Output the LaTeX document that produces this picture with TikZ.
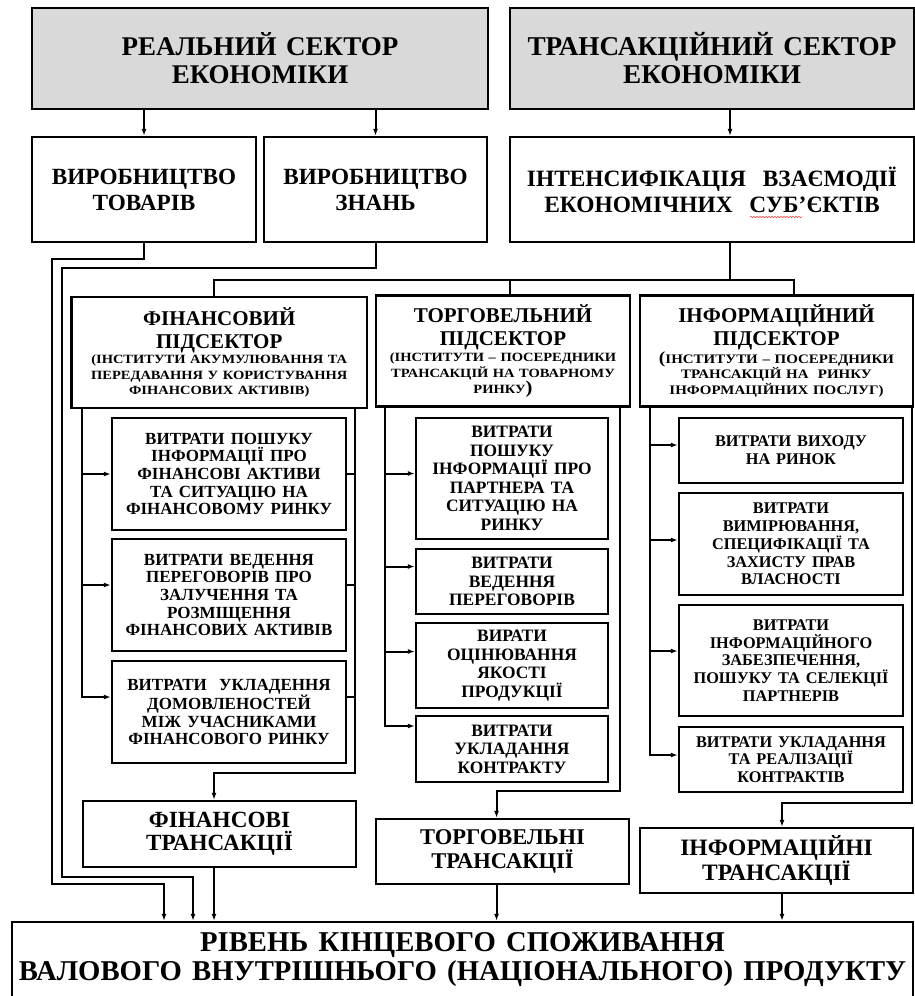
\documentclass[tikz,border=0pt]{standalone}
\usepackage{fontspec}
\setmainfont{Liberation Serif}
\newfontfamily\widefont{Liberation Serif}[FakeStretch=1.15]
\usetikzlibrary{arrows.meta,calc,decorations.pathmorphing}
\definecolor{sectgray}{RGB}{217,217,217}
\newcommand\fsz[2]{\fontsize{#1}{#2}\selectfont\spaceskip=0.36em\relax}
\begin{document}
\begin{tikzpicture}[x=1pt,y=-1pt,
  box/.style={draw=black, line width=2.4pt, inner sep=0pt, align=center, font=\bfseries},
  conn/.style={line width=2pt, line join=miter},
  arr/.style={conn, -{Latex[length=7pt,width=5pt]}},
  squiggle/.style={red!75, line width=0.6pt, decorate, decoration={snake, amplitude=0.7pt, segment length=3pt}},
]
\useasboundingbox[fill=white] (0,0) rectangle (915,996);

% top row
\node[box, fill=sectgray, minimum width=456pt, minimum height=101pt, text width=450pt] (top1) at (260,58.5) {\fsz{27}{28}РЕАЛЬНИЙ СЕКТОР\\ЕКОНОМІКИ\par};
\node[box, fill=sectgray, minimum width=404pt, minimum height=101pt, text width=398pt] (top2) at (712,58.5) {\fsz{27.2}{28}ТРАНСАКЦІЙНИЙ СЕКТОР\\ЕКОНОМІКИ\par};

% second row
\node[box, minimum width=224pt, minimum height=105pt, text width=220pt] (row2a) at (144,189.5) {\fsz{23.2}{26}ВИРОБНИЦТВО\\ТОВАРІВ\par};
\node[box, minimum width=223pt, minimum height=105pt, text width=219pt] (row2b) at (375.5,189.5) {\fsz{23.2}{26}ВИРОБНИЦТВО\\ЗНАНЬ\par};
\node[box, minimum width=404pt, minimum height=105pt, text width=398pt] (row2c) at (712,189.5) {\fsz{23.4}{26}ІНТЕНСИФІКАЦІЯ\ \ ВЗАЄМОДІЇ\\ЕКОНОМІЧНИХ\ \ СУБ’ЄКТІВ\par};

% subsectors
\node[box, minimum width=295.5pt, minimum height=111pt, text width=291pt] (sub1) at (219.25,352.5) {\fsz{21}{23}ФІНАНСОВИЙ\\ПІДСЕКТОР\par\widefont\bfseries\fsz{12.6}{15.5}(ІНСТИТУТИ АКУМУЛЮВАННЯ ТА\\ПЕРЕДАВАННЯ У КОРИСТУВАННЯ\\ФІНАНСОВИХ АКТИВІВ)\par};
\node[box, minimum width=254pt, minimum height=111pt, text width=250pt] (sub2) at (503,351) {\fsz{21}{23}ТОРГОВЕЛЬНИЙ\\ПІДСЕКТОР\par\widefont\bfseries\fsz{12.6}{16}(ІНСТИТУТИ – ПОСЕРЕДНИКИ\\ТРАНСАКЦІЙ НА ТОВАРНОМУ\\РИНКУ{\fsz{18}{16})}\par};
\node[box, minimum width=273pt, minimum height=111pt, text width=269pt] (sub3) at (776.5,351) {\fsz{21}{23}ІНФОРМАЦІЙНИЙ\\ПІДСЕКТОР\par\widefont\bfseries\fsz{13}{15.5}{\fsz{17}{15.5}(}ІНСТИТУТИ – ПОСЕРЕДНИКИ\\ТРАНСАКЦІЙ НА\ \ РИНКУ\\ІНФОРМАЦІЙНИХ ПОСЛУГ)\par};

% financial column
\node[box, minimum width=234pt, minimum height=112pt, text width=232pt] (F1) at (229,474) {\fsz{17}{17.7}ВИТРАТИ ПОШУКУ\\ІНФОРМАЦІЇ ПРО\\ФІНАНСОВІ АКТИВИ\\ТА СИТУАЦІЮ НА\\ФІНАНСОВОМУ РИНКУ\par};
\node[box, minimum width=234pt, minimum height=112pt, text width=232pt] (F2) at (229,595) {\fsz{17}{17.7}ВИТРАТИ ВЕДЕННЯ\\ПЕРЕГОВОРІВ ПРО\\ЗАЛУЧЕННЯ ТА\\РОЗМІЩЕННЯ\\ФІНАНСОВИХ АКТИВІВ\par};
\node[box, minimum width=234pt, minimum height=102pt, text width=232pt] (F3) at (229,712) {\fsz{17}{17.7}ВИТРАТИ\ \ УКЛАДЕННЯ\\ДОМОВЛЕНОСТЕЙ\\МІЖ УЧАСНИКАМИ\\ФІНАНСОВОГО РИНКУ\par};

% trade column
\node[box, minimum width=192pt, minimum height=121pt, text width=190pt] (T1) at (512,478.5) {\fsz{17.4}{18.5}ВИТРАТИ\\ПОШУКУ\\ІНФОРМАЦІЇ ПРО\\ПАРТНЕРА ТА\\СИТУАЦІЮ НА\\РИНКУ\par};
\node[box, minimum width=192pt, minimum height=65pt, text width=190pt] (T2) at (512,581.5) {\fsz{17.4}{18.5}ВИТРАТИ\\ВЕДЕННЯ\\ПЕРЕГОВОРІВ\par};
\node[box, minimum width=192pt, minimum height=85pt, text width=190pt] (T3) at (512,665.5) {\fsz{17.4}{18.5}ВИРАТИ\\ОЦІНЮВАННЯ\\ЯКОСТІ\\ПРОДУКЦІЇ\par};
\node[box, minimum width=192pt, minimum height=66pt, text width=190pt] (T4) at (512,749) {\fsz{17.4}{18.5}ВИТРАТИ\\УКЛАДАННЯ\\КОНТРАКТУ\par};

% information column
\node[box, minimum width=224pt, minimum height=65pt, text width=222pt] (I1) at (791,450.5) {\fsz{16.3}{17.7}ВИТРАТИ ВИХОДУ\\НА РИНОК\par};
\node[box, minimum width=224pt, minimum height=102pt, text width=222pt] (I2) at (791,544) {\fsz{16.3}{17.7}ВИТРАТИ\\ВИМІРЮВАННЯ,\\СПЕЦИФІКАЦІЇ ТА\\ЗАХИСТУ ПРАВ\\ВЛАСНОСТІ\par};
\node[box, minimum width=224pt, minimum height=111pt, text width=222pt] (I3) at (791,660.5) {\fsz{16.3}{17.7}ВИТРАТИ\\ІНФОРМАЦІЙНОГО\\ЗАБЕЗПЕЧЕННЯ,\\ПОШУКУ ТА СЕЛЕКЦІЇ\\ПАРТНЕРІВ\par};
\node[box, minimum width=224pt, minimum height=65pt, text width=222pt] (I4) at (791,759.5) {\fsz{16.3}{17.7}ВИТРАТИ УКЛАДАННЯ\\ТА РЕАЛІЗАЦІЇ\\КОНТРАКТІВ\par};

% transactions
\node[box, minimum width=273pt, minimum height=66pt, text width=269pt] (FT) at (219.5,834) {\fsz{23.2}{23.5}ФІНАНСОВІ\\ТРАНСАКЦІЇ\par};
\node[box, minimum width=253pt, minimum height=65pt, text width=249pt] (TT) at (502.5,851.5) {\fsz{22.5}{23.5}ТОРГОВЕЛЬНІ\\ТРАНСАКЦІЇ\par};
\node[box, minimum width=273pt, minimum height=65pt, text width=269pt] (IT) at (776.5,860.5) {\fsz{23.5}{25}ІНФОРМАЦІЙНІ\\ТРАНСАКЦІЇ\par};

% final
\node[box, minimum width=901pt, minimum height=76pt, text width=899pt] (fin) at (462.5,960) {\fsz{28.7}{29}РІВЕНЬ КІНЦЕВОГО СПОЖИВАННЯ\\ВАЛОВОГО ВНУТРІШНЬОГО (НАЦІОНАЛЬНОГО) ПРОДУКТУ\par};

% spell-check mark under СУБ'Є
\draw[squiggle] (750,217) -- (802,217);

% helper coordinates
\coordinate (xA) at (730,0);
\coordinate (busL) at (214,280);
\coordinate (busR) at (794,280);
\coordinate (xS2) at (510,0);
\coordinate (l1a) at (52,259);
\coordinate (l1b) at (52,884);
\coordinate (x164) at (164,0);
\coordinate (l2a) at (62,268);
\coordinate (l2b) at (62,877);
\coordinate (x193) at (193,0);
\coordinate (fl) at (82,0);
\coordinate (fr) at (355,0);
\coordinate (frb) at (355,773);
\coordinate (tl) at (385,0);
\coordinate (tr) at (620,0);
\coordinate (trb) at (620,791);
\coordinate (il) at (650,0);
\coordinate (ir) at (912,0);
\coordinate (irb) at (912,803);
\coordinate (F1in) at ([yshift=0pt]F1.west);
\coordinate (F2in) at ([yshift=10pt]F2.west);
\coordinate (F3in) at ([yshift=15pt]F3.west);
\coordinate (T1in) at ([yshift=5pt]T1.west);
\coordinate (T2in) at ([yshift=15pt]T2.west);
\coordinate (T3in) at ([yshift=14pt]T3.west);
\coordinate (T4in) at ([yshift=23pt]T4.west);
\coordinate (I1in) at ([yshift=5.5pt]I1.west);
\coordinate (I2in) at ([yshift=4pt]I2.west);
\coordinate (I3in) at ([yshift=9.5pt]I3.west);
\coordinate (I4in) at ([yshift=4.5pt]I4.west);
\coordinate (FTin) at ([xshift=-5.5pt]FT.north);
\coordinate (TTin) at ([xshift=-6pt]TT.north);
\coordinate (ITin) at ([xshift=5.5pt]IT.north);

% top arrows
\draw[arr] (top1.south -| row2a.north) -- (row2a.north);
\draw[arr] (top1.south -| row2b.north) -- (row2b.north);
\draw[arr] (xA |- top2.south) -- (xA |- row2c.north);

% long lines from production boxes
\draw[arr] (row2a.south) |- (l1a) -- (l1b) -| (x164 |- fin.north);
\draw[arr] (row2b.south) |- (l2a) -- (l2b) -| (x193 |- fin.north);

% bus to subsectors
\draw[conn] (xA |- row2c.south) -- (xA |- busL);
\draw[conn] (busL |- sub1.north) -- (busL) -- (busR) -- (busR |- sub3.north);
\draw[conn] (xS2 |- busL) -- (xS2 |- sub2.north);

% financial column
\draw[arr] (fl |- sub1.south) |- (F3in);
\draw[arr] (fl |- F1in) -- (F1in);
\draw[arr] (fl |- F2in) -- (F2in);
\draw[arr] (fr |- sub1.south) -- (frb) -| (FTin);
\draw[conn] (F1.east |- F1in) -- (fr |- F1in);
\draw[conn] (F2.east |- F2in) -- (fr |- F2in);
\draw[conn] (F3.east |- F3in) -- (fr |- F3in);

% trade column
\draw[arr] (tl |- sub2.south) |- (T4in);
\draw[arr] (tl |- T1in) -- (T1in);
\draw[arr] (tl |- T2in) -- (T2in);
\draw[arr] (tl |- T3in) -- (T3in);
\draw[arr] (tr |- sub2.south) -- (trb) -| (TTin);

% information column
\draw[arr] (il |- sub3.south) |- (I4in);
\draw[arr] (il |- I1in) -- (I1in);
\draw[arr] (il |- I2in) -- (I2in);
\draw[arr] (il |- I3in) -- (I3in);
\draw[arr] (ir |- sub3.south) -- (irb) -| (ITin);

% transactions to final
\draw[arr] (FTin |- FT.south) -- (FTin |- fin.north);
\draw[arr] (TTin |- TT.south) -- (TTin |- fin.north);
\draw[arr] (ITin |- IT.south) -- (ITin |- fin.north);
\end{tikzpicture}
\end{document}
